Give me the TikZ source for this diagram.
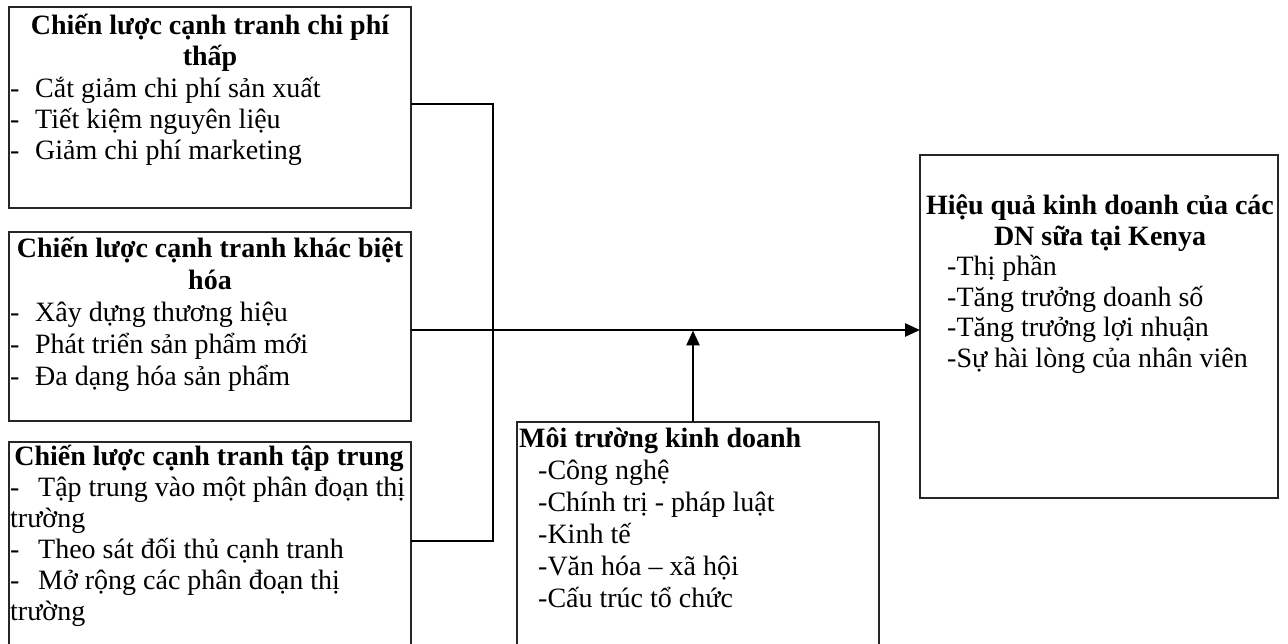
\documentclass[tikz,border=0pt]{standalone}
\usepackage{fontspec}
\setmainfont{Liberation Serif}
\usetikzlibrary{arrows.meta,calc}
\begin{document}
\begin{tikzpicture}[x=1pt,y=1pt,
  box/.style={draw=black!85, line width=1.1pt, inner sep=0pt, outer sep=0pt, fill=none},
  txt/.style={inner sep=0pt, anchor=base west, font=\fontsize{28}{31}\selectfont},
  ttl/.style={inner sep=0pt, anchor=base, font=\fontsize{28}{31}\selectfont\bfseries},
  ttlw/.style={inner sep=0pt, anchor=base west, font=\fontsize{28}{31}\selectfont\bfseries},
  conn/.style={draw=black, line width=1.2pt},
  flow/.style={draw=black, line width=2.6pt, -{Triangle[length=15pt,width=13pt]}}]
\useasboundingbox (0,0) rectangle (1288,644);
\clip (0,0) rectangle (1288,644);
\newcommand{\dsh}{\makebox[25pt][l]{-}}
% boxes
\node[box, minimum width=402, minimum height=201] (b1) at (210,536.5) {};
\node[box, minimum width=402, minimum height=189] (b2) at (210,317.5) {};
\node[box, minimum width=402, minimum height=218] (b3) at (210,93) {};
\node[box, minimum width=362, minimum height=238] (b4) at (698,103) {};
\node[box, minimum width=358, minimum height=343] (b5) at (1099,317.5) {};
% box 1 text
\node[ttl] (t11) at (210,609) {Chiến lược cạnh tranh chi phí};
\node[ttl] (t12) at (210,578) {thấp};
\node[txt] (t13) at (10,546) {\dsh Cắt giảm chi phí sản xuất};
\node[txt] (t14) at (10,515) {\dsh Tiết kiệm nguyên liệu};
\node[txt] (t15) at (10,484) {\dsh Giảm chi phí marketing};
% box 2 text
\node[ttl] (t21) at (210,386) {Chiến lược cạnh tranh khác biệt};
\node[ttl] (t22) at (210,354) {hóa};
\node[txt] (t23) at (10,322) {\dsh Xây dựng thương hiệu};
\node[txt] (t24) at (10,290) {\dsh Phát triển sản phẩm mới};
\node[txt] (t25) at (10,258) {\dsh Đa dạng hóa sản phẩm};
% box 3 text
\node[ttl] (t31) at (209,178) {Chiến lược cạnh tranh tập trung};
\node[txt] (t32) at (10,147) {\makebox[28pt][l]{-}Tập trung vào một phân đoạn thị};
\node[txt] (t33) at (10,116) {trường};
\node[txt] (t34) at (10,85) {\makebox[28pt][l]{-}Theo sát đối thủ cạnh tranh};
\node[txt] (t35) at (10,54) {\makebox[28pt][l]{-}Mở rộng các phân đoạn thị};
\node[txt] (t36) at (10,23) {trường};
% box 4 text
\node[ttlw] (t41) at (519,196) {Môi trường kinh doanh};
\node[txt] (t42) at (538,164) {-Công nghệ};
\node[txt] (t43) at (538,132) {-Chính trị - pháp luật};
\node[txt] (t44) at (538,100) {-Kinh tế};
\node[txt] (t45) at (538,68) {-Văn hóa – xã hội};
\node[txt] (t46) at (538,36) {-Cấu trúc tổ chức};
% box 5 text
\node[ttl] (t51) at (1100,429) {Hiệu quả kinh doanh của các};
\node[ttl] (t52) at (1100,398) {DN sữa tại Kenya};
\node[txt] (t53) at (947,368) {-Thị phần};
\node[txt] (t54) at (947,337) {-Tăng trưởng doanh số};
\node[txt] (t55) at (947,307) {-Tăng trưởng lợi nhuận};
\node[txt] (t56) at (947,276) {-Sự hài lòng của nhân viên};
% connectors
\coordinate (j) at (493,314);
\coordinate (m) at (607,314);
\draw[conn] ([yshift=3.5]b1.east) -| (j);
\draw[conn] ([yshift=10]b3.east) -| (j);
\draw[conn] ([yshift=-3.5]b2.east) -- (j) -- (m);
\draw[flow] (m) -- ([yshift=-3.5]b5.west);
\draw[flow, shorten >=0.5pt] ([xshift=-5]b4.north) -- ([xshift=-5]b4.north |- m);
\end{tikzpicture}
\end{document}
